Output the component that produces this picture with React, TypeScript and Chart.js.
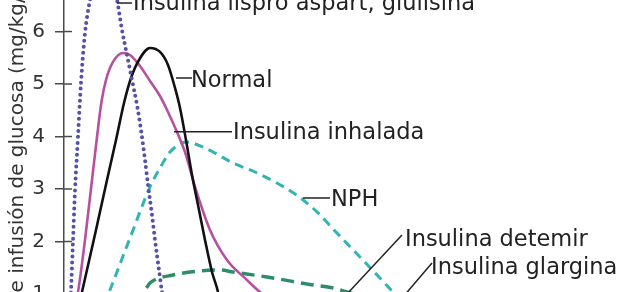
import { useEffect, useRef } from "react";
import { Chart, registerables } from "chart.js";

Chart.register(...registerables);

// Glucose infusion rate (mg/kg/min) against time (hours) for each insulin
const lisproHours = [0.2, 0.299, 0.385, 0.471, 0.599, 0.727, 0.898, 1.112, 1.37, 1.67, 1.97, 2.267, 2.481, 2.695, 2.909, 3.123, 3.294, 3.465, 3.594, 3.765, 3.893, 4.064, 4.193, 4.45, 4.9, 5.6, 6.5];
const lisproRate = [0, 1.038, 2.01, 2.98, 4.0, 5.03, 5.97, 6.6, 7.08, 7.33, 7.13, 6.6, 6.029, 5.553, 5.077, 4.6, 4.124, 3.553, 3.077, 2.505, 2.029, 1.457, 1.038, 0.45, 0.15, 0.03, 0];

const normalHours = [0.257, 0.77, 1.369, 1.84, 2.225, 2.567, 2.866, 3.209, 3.679, 4.107, 4.449, 4.749, 4.963, 5.219, 5.476, 5.733, 6.032, 6.332, 6.588, 7.016, 8];
const normalRate = [0, 1.038, 2.219, 3.172, 3.934, 4.639, 5.115, 5.458, 5.687, 5.611, 5.363, 4.925, 4.544, 3.934, 3.267, 2.696, 2.029, 1.419, 1.038, 0, 0];

const inhaledHours = [0.086, 0.599, 0.898, 1.198, 1.412, 1.583, 1.797, 2.096, 2.524, 2.824, 3.251, 3.679, 4.107, 4.449, 4.834, 5.176, 5.647, 6.246, 6.973, 7.829, 8.385, 9.5, 11, 13, 15.5, 17];
const inhaledRate = [0, 1.038, 2.029, 3.172, 3.991, 4.6, 5.077, 5.42, 5.591, 5.553, 5.343, 5.058, 4.772, 4.467, 4.086, 3.705, 2.982, 2.219, 1.648, 1.267, 1.038, 0.72, 0.42, 0.18, 0.04, 0];

const nphHours = [1.0, 1.968, 2.824, 3.679, 4.107, 4.535, 4.963, 5.219, 6.032, 7.23, 8.171, 9.027, 9.882, 10.738, 11.594, 12.663, 14.075, 15.23, 16.3, 17.5];
const nphRate = [0, 1.076, 2.067, 3.039, 3.4, 3.705, 3.858, 3.896, 3.782, 3.496, 3.324, 3.134, 2.905, 2.6, 2.2, 1.705, 1.038, 0.5, 0.12, 0];

const detemirHours = [1.2, 2.6, 3.551, 3.679, 4.663, 5.818, 6.674, 7.23, 8.684, 10.652, 11.508, 12.107, 14, 18, 24];
const detemirRate = [0, 0.62, 1.134, 1.21, 1.362, 1.438, 1.457, 1.419, 1.324, 1.172, 1.114, 1.038, 0.8, 0.5, 0.25];

const glargineHours = [1.2, 2.5, 4, 6, 12, 18, 24];
const glargineRate = [0, 0.55, 0.82, 0.88, 0.88, 0.88, 0.88];

const yTickValues = [0, 1, 2, 3, 4, 5, 6, 7];
const Y_MIN = -0.6;
const Y_MAX = 7.972;

// Callouts: point on the curve, end of the leader, and where the label starts
const calloutText = [
  "Insulina lispro aspart, glulisina",
  "Normal",
  "Insulina inhalada",
  "NPH",
  "Insulina detemir",
  "Insulina glargina",
];
const calloutCurveHours = [2.267, 4.791, 4.706, 10.225, 12.107, 14.374];
const calloutCurveRate = [6.543, 5.115, 4.092, 2.829, 0.999, 0.878];
const calloutEndHours = [2.909, 5.476, 7.187, 11.38, 14.46, 15.743];
const calloutEndRate = [6.543, 5.115, 4.092, 2.829, 2.124, 1.591];
const calloutLabelHours = [2.952, 5.433, 7.23, 11.422, 14.588, 15.701];
const calloutLabelRate = [6.562, 5.096, 4.105, 2.839, 2.067, 1.543];

const FONT = '"DejaVu Sans", Verdana, sans-serif';
const AXIS_COLOR = "#4a4a4a";
const TEXT_COLOR = "#222";

const toPoints = (xs: number[], ys: number[]) => xs.map((x, i) => ({ x, y: ys[i] }));

const overlayPlugin = {
  id: "overlay",
  afterDatasetsDraw(chart: any) {
    const { ctx, chartArea } = chart;
    const xs = chart.scales.x;
    const ys = chart.scales.y;
    ctx.save();
    // tick marks continue a little way into the plot
    ctx.strokeStyle = AXIS_COLOR;
    ctx.lineWidth = 1.5;
    yTickValues.forEach((v) => {
      const py = ys.getPixelForValue(v);
      ctx.beginPath();
      ctx.moveTo(chartArea.left, py);
      ctx.lineTo(chartArea.left + 8, py);
      ctx.stroke();
    });
    // leader lines and labels
    ctx.strokeStyle = TEXT_COLOR;
    ctx.lineWidth = 1.5;
    ctx.fillStyle = TEXT_COLOR;
    const size = 22.5;
    ctx.font = `${size}px ${FONT}`;
    ctx.textAlign = "left";
    ctx.textBaseline = "alphabetic";
    calloutText.forEach((text, i) => {
      const x0 = xs.getPixelForValue(calloutCurveHours[i]);
      const y0 = ys.getPixelForValue(calloutCurveRate[i]);
      const x1 = xs.getPixelForValue(calloutEndHours[i]);
      const y1 = ys.getPixelForValue(calloutEndRate[i]);
      ctx.beginPath();
      ctx.moveTo(x0, y0);
      ctx.lineTo(x1, y1);
      ctx.stroke();
      const lx = xs.getPixelForValue(calloutLabelHours[i]);
      const ly = ys.getPixelForValue(calloutLabelRate[i]);
      ctx.fillText(text, lx, ly + size * 0.36);
    });
    ctx.restore();
  },
};

export default function App() {
  const ref = useRef<HTMLCanvasElement | null>(null);

  useEffect(() => {
    if (!ref.current) return;
    const common = {
      pointRadius: 0,
      pointHoverRadius: 0,
      fill: false,
      cubicInterpolationMode: "monotone" as const,
      borderJoinStyle: "round" as const,
    };
    const chart = new Chart(ref.current, {
      type: "line",
      data: {
        datasets: [
          {
            ...common,
            label: "Insulina lispro aspart, glulisina",
            data: toPoints(lisproHours, lisproRate),
            borderColor: "#5650aa",
            borderWidth: 4,
            borderDash: [0, 6],
            borderCapStyle: "round",
          },
          {
            ...common,
            label: "Normal",
            data: toPoints(normalHours, normalRate),
            borderColor: "#111111",
            borderWidth: 2.6,
          },
          {
            ...common,
            label: "Insulina inhalada",
            data: toPoints(inhaledHours, inhaledRate),
            borderColor: "#b5519f",
            borderWidth: 2.6,
          },
          {
            ...common,
            label: "NPH",
            data: toPoints(nphHours, nphRate),
            borderColor: "#33b4b2",
            borderWidth: 3,
            borderDash: [9, 6],
          },
          {
            ...common,
            label: "Insulina detemir",
            data: toPoints(detemirHours, detemirRate),
            borderColor: "#2f8c68",
            borderWidth: 3.5,
            borderDash: [13, 7],
          },
          {
            ...common,
            label: "Insulina glargina",
            data: toPoints(glargineHours, glargineRate),
            borderColor: "#c07a2a",
            borderWidth: 3,
          },
        ],
      },
      options: {
        responsive: false,
        devicePixelRatio: 1,
        animation: false,
        events: [],
        layout: { padding: 0, autoPadding: false },
        plugins: {
          legend: { display: false },
          tooltip: { enabled: false },
          title: { display: false },
        },
        scales: {
          x: { type: "linear", min: 0, max: 24, display: false },
          y: {
            type: "linear",
            min: Y_MIN,
            max: Y_MAX,
            afterBuildTicks: (axis: any) => {
              axis.ticks = yTickValues.map((value) => ({ value }));
            },
            afterFit: (axis: any) => {
              axis.width = 64;
            },
            ticks: {
              font: { family: FONT, size: 20 },
              color: "#333",
              padding: 10,
            },
            grid: {
              drawOnChartArea: false,
              drawTicks: true,
              tickLength: 9,
              color: AXIS_COLOR,
              lineWidth: 1.5,
            },
            border: { display: true, color: AXIS_COLOR, width: 1.5 },
            title: {
              display: true,
              text: "Tasa de infusión de glucosa (mg/kg/min)",
              font: { family: FONT, size: 20 },
              color: "#333",
              padding: { top: 6, bottom: 0 },
            },
          },
        },
      },
      plugins: [overlayPlugin],
    });
    return () => chart.destroy();
  }, []);

  return (
    <div
      style={{
        position: "fixed",
        left: 0,
        top: 0,
        width: 625,
        height: 292,
        overflow: "hidden",
        background: "#fff",
      }}
    >
      <canvas
        ref={ref}
        width={625}
        height={494}
        style={{ position: "absolute", left: 0, top: -94, width: 625, height: 494 }}
      />
    </div>
  );
}
